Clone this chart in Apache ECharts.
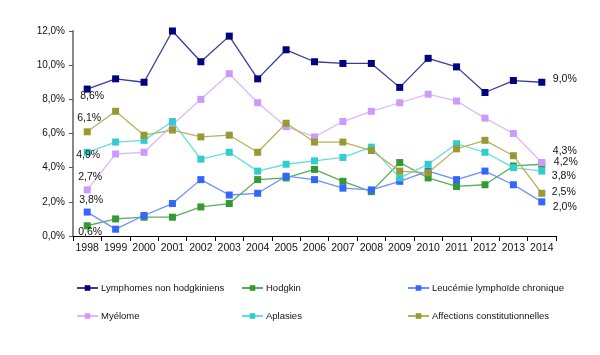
<!DOCTYPE html>
<html>
<head>
<meta charset="utf-8">
<script src="https://cdn.jsdelivr.net/npm/echarts@6/dist/echarts.min.js"></script>
<style>html,body{margin:0;padding:0;background:#fff}#c{width:600px;height:355px}</style>
</head>
<body>
<div id="c"></div>
<script>
const years = ['1998','1999','2000','2001','2002','2003','2004','2005','2006','2007','2008','2009','2010','2011','2012','2013','2014'];
const seriesNames = ['Lymphomes non hodgkiniens','Hodgkin','Leucémie lymphoïde chronique','Myélome','Aplasies','Affections constitutionnelles'];
const lymphomes  = [8.6, 9.2, 9.0, 12.0, 10.2, 11.7, 9.2, 10.9, 10.2, 10.1, 10.1, 8.7, 10.4, 9.9, 8.4, 9.1, 9.0];
const hodgkin    = [0.6, 1.0, 1.1, 1.1, 1.7, 1.9, 3.3, 3.4, 3.9, 3.2, 2.6, 4.3, 3.4, 2.9, 3.0, 4.1, 4.2];
const leucemie   = [1.4, 0.4, 1.2, 1.9, 3.3, 2.4, 2.5, 3.5, 3.3, 2.8, 2.7, 3.2, 3.8, 3.3, 3.8, 3.0, 2.0];
const myelome    = [2.7, 4.8, 4.9, 6.5, 8.0, 9.5, 7.8, 6.4, 5.8, 6.7, 7.3, 7.8, 8.3, 7.9, 6.9, 6.0, 4.3];
const aplasies   = [4.9, 5.5, 5.6, 6.7, 4.5, 4.9, 3.8, 4.2, 4.4, 4.6, 5.2, 3.4, 4.2, 5.4, 4.9, 4.0, 3.8];
const affections = [6.1, 7.3, 5.9, 6.2, 5.8, 5.9, 4.9, 6.6, 5.5, 5.5, 5.0, 3.8, 3.7, 5.1, 5.6, 4.7, 2.5];
const startLabels = ['8,6%','0,6%','3,8%','2,7%','4,9%','6,1%'];
const endLabels   = ['9,0%','4,2%','2,0%','4,3%','3,8%','2,5%'];
const yTicks = [0, 2, 4, 6, 8, 10, 12];

const allValues = [lymphomes, hodgkin, leucemie, myelome, aplasies, affections];
const colors = ['#000080','#339933','#3366FF','#CC99FF','#33CCCC','#999933'];
const lineColors = ['#3a3a99','#5aad5a','#6b8fff','#dcb8ff','#66dddd','#b3b35c'];
const startOffsets = [[5,7],[3,6],[4,-12],[3,-13],[1,3],[2,-14]];
const endOffsets = [[23,-3],[24,-2],[23,5],[23,-11],[22,5],[22,-1]];

const labelFont = {fontFamily:'Liberation Sans, Arial, sans-serif', fontSize:10.5, color:'#111'};

const series = allValues.map((vals, i) => ({
  name: seriesNames[i],
  type: 'line',
  symbol: 'rect',
  symbolSize: 7,
  z: 2 + i,
  itemStyle: {color: colors[i]},
  lineStyle: {color: lineColors[i], width: 1.3},
  emphasis: {disabled: true},
  data: vals.map((v, j) => {
    const item = {value: v};
    if (j === 0) {
      item.label = Object.assign({show:true, position:'inside', align:'center', verticalAlign:'middle', offset:startOffsets[i], formatter:startLabels[i]}, labelFont);
    } else if (j === vals.length - 1) {
      item.label = Object.assign({show:true, position:'inside', align:'center', verticalAlign:'middle', offset:endOffsets[i], formatter:endLabels[i]}, labelFont);
    }
    return item;
  })
}));

const legendPos = [[76,283],[241,283],[407,283],[76,311],[241,311],[407,311]];
const legends = seriesNames.map((n, i) => ({
  data: [n],
  left: legendPos[i][0],
  top: legendPos[i][1],
  itemWidth: 21,
  itemHeight: 7,
  itemGap: 0,
  padding: 0,
  selectedMode: false,
  textStyle: {fontFamily:'Liberation Sans, Arial, sans-serif', fontSize:9.5, color:'#111', padding:[0,0,0,-2]}
}));

const chart = echarts.init(document.getElementById('c'), null, {renderer:'canvas'});
chart.setOption({
  animation: false,
  backgroundColor: '#fff',
  color: colors,
  grid: {left:73, right:44, top:31, bottom:119, containLabel:false},
  legend: legends,
  xAxis: {
    type: 'category',
    data: years,
    boundaryGap: true,
    axisLine: {lineStyle:{color:'#000', width:1}},
    axisTick: {show:true, alignWithLabel:false, length:5, lineStyle:{color:'#000'}},
    axisLabel: {margin:7, fontFamily:'Liberation Sans, Arial, sans-serif', fontSize:10.5, color:'#111', interval:0},
    splitLine: {show:false}
  },
  yAxis: {
    type: 'value',
    min: yTicks[0],
    max: yTicks[yTicks.length-1],
    interval: 2,
    axisLine: {show:true, lineStyle:{color:'#888', width:2}},
    axisTick: {show:true, length:4, lineStyle:{color:'#555'}},
    axisLabel: {margin:8, fontFamily:'Liberation Sans, Arial, sans-serif', fontSize:10, color:'#111',
      formatter: v => v.toFixed(1).replace('.', ',') + '%'},
    splitLine: {show:false}
  },
  series: series
});
</script>
</body>
</html>
